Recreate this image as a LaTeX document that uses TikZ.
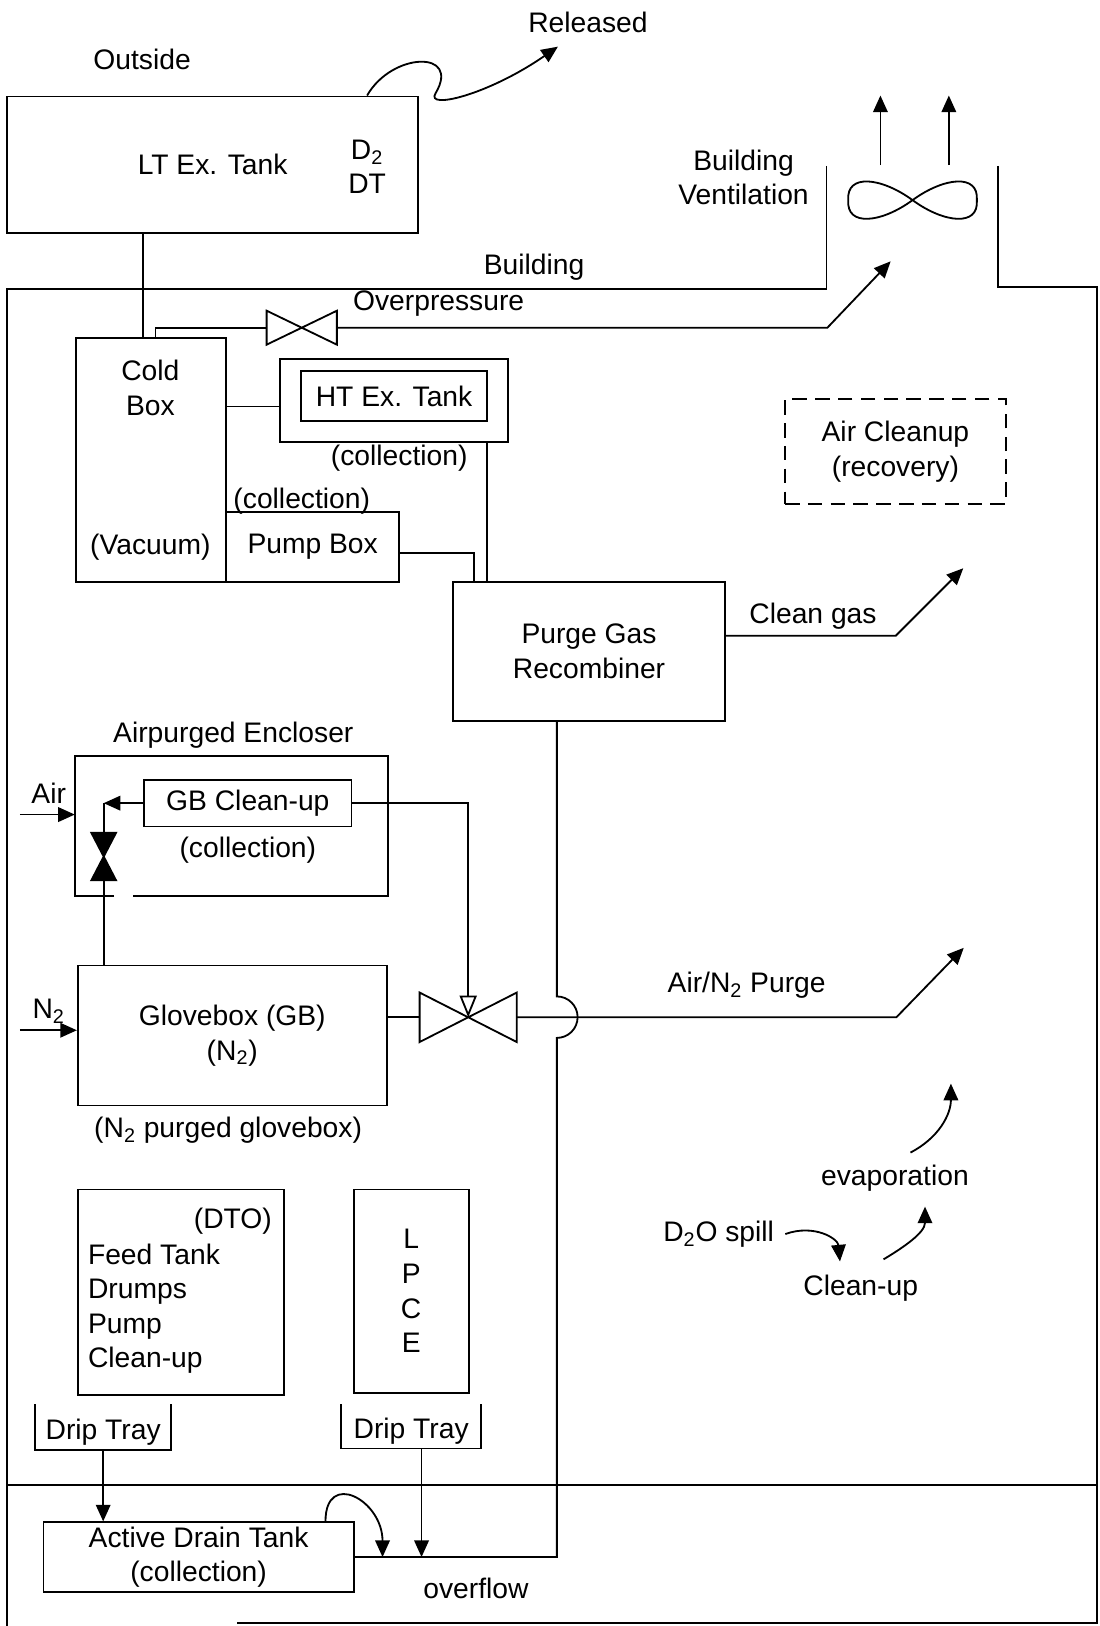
\documentclass[tikz,border=0pt]{standalone}
\usepackage{fontspec}
\setmainfont{Liberation Sans}
\usepackage{tikz}
\usetikzlibrary{arrows.meta}
\newcommand\px{0.2mm}
\tikzstyle{box} = [rectangle, draw=black, inner sep=0pt, align=center]
\tikzstyle{txt} = [inner sep=0pt, align=center]
\tikzstyle{valve} = [rectangle, inner sep=0pt]
\tikzstyle{arrow} = [-{Triangle[length=3.2mm, width=2.8mm]}]
\tikzstyle{openarrow} = [-{Triangle[open, length=4.2mm, width=3.3mm]}]
\newcommand\drawvalve[1]{\draw (#1.north west) -- (#1.south east) -- (#1.north east) -- (#1.south west) -- cycle;}
\newcommand\drawshut[1]{\filldraw (#1.north west) -- (#1.north east) -- (#1.south west) -- (#1.south east) -- cycle;}
\newcommand\drawtray[1]{\draw (#1.north west) -- (#1.south west) -- (#1.south east) -- (#1.north east);}

\begin{document}
\begin{tikzpicture}[x=\px, y=-\px, line width=1pt, font=\fontsize{15.5}{19}\selectfont]
\useasboundingbox (0,0) rectangle (1060,1568);

            \node (lt) [box, minimum width=396*\px, minimum height=132*\px] at (205,159) {LT Ex. Tank};
            \node (ltgas) [txt] at (354,161) {D\textsubscript{2}\\DT};
            \node (cold) [box, minimum width=145*\px, minimum height=235*\px] at (145.5,443.5) {};
            \node (coldtxt) [txt] at (145,374) {Cold\\Box};
            \node (vac) [txt] at (145,528) {(Vacuum)};
            \node (htout) [box, minimum width=220*\px, minimum height=80*\px] at (380,386) {};
            \node (ht) [box, minimum width=180*\px, minimum height=48*\px] at (380,382) {HT Ex. Tank};
            \node (htcol) [txt] at (385,442) {(collection)};
            \node (pump) [box, minimum width=167*\px, minimum height=67*\px] at (301.5,527.5) {Pump Box};
            \node (pumpcol) [txt] at (291,483) {(collection)};
            \node (purge) [box, minimum width=262*\px, minimum height=134*\px] at (568,628) {Purge Gas\\Recombiner};
            \node (aircl) [box, dash pattern=on 2.8mm off 1.6mm, minimum width=213*\px, minimum height=101*\px] at (863.5,435.5) {Air Cleanup\\(recovery)};
            \node (encl) [valve, minimum width=300*\px, minimum height=133*\px] at (223,796.5) {};
            \node (encltxt) [txt] at (225,709) {Airpurged Encloser};
            \node (gbclean) [box, minimum width=200*\px, minimum height=45*\px] at (239,774.5) {GB Clean-up};
            \node (gbcol) [txt] at (239,820) {(collection)};
            \node (shut) [valve, minimum width=22*\px, minimum height=44*\px] at (100,826) {};
            \node (glove) [box, minimum width=298*\px, minimum height=135*\px] at (224,998.5) {Glovebox (GB)\\(N\textsubscript{2})};
            \node (glovetxt) [txt] at (220,1090) {(N\textsubscript{2} purged glovebox)};
            \node (gvalve) [valve, minimum width=92*\px, minimum height=46*\px] at (451.5,981) {};
            \node (ovalve) [valve, minimum width=66*\px, minimum height=31*\px] at (291,316) {};
            \node (dto) [box, minimum width=199*\px, minimum height=198*\px] at (174.5,1246) {};
            \node (dtotxt) [txt, anchor=east] at (263,1178) {(DTO)};
            \node (dtolist) [txt, align=left, anchor=west] at (84,1262) {Feed Tank\\Drumps\\Pump\\Clean-up};
            \node (lpce) [box, minimum width=111*\px, minimum height=196*\px] at (396.5,1245) {L\\P\\C\\E};
            \node (tray1) [txt, minimum width=129*\px, minimum height=42*\px] at (99.5,1376) {\raisebox{-1mm}[\height][\depth]{Drip Tray}};
            \node (tray2) [txt, minimum width=133*\px, minimum height=41*\px] at (396.5,1375.5) {\raisebox{-1mm}[\height][\depth]{Drip Tray}};
            \node (adt) [box, minimum width=299*\px, minimum height=67*\px] at (191.5,1501.5) {Active Drain Tank\\(collection)};
            \node (fan) [valve, minimum width=124*\px, minimum height=36*\px] at (880,193) {};
            \node (spill) [txt] at (693,1190) {D\textsubscript{2}O spill};
            \node (cleanup) [txt] at (830,1242) {Clean-up};
            \node (evap) [txt] at (863,1136) {evaporation};
            \coordinate (evapout) at (917,1045);
            \coordinate (released) at (538,45);

            \node (reltxt) [txt] at (567,22) {Released};
            \node (outside) [txt] at (137,57) {Outside};
            \node (building) [txt] at (515,258) {Building};
            \node (venttxt) [txt] at (717,171) {Building\\Ventilation};
            \node (overtxt) [txt] at (423,293) {Overpressure};
            \node (cleantxt) [txt] at (784,594) {Clean gas};
            \node (purgetxt) [txt] at (720,950) {Air/N\textsubscript{2} Purge};
            \node (airtxt) [txt] at (47,765) {Air};
            \node (ntxt) [txt] at (47,975) {N\textsubscript{2}};
            \node (overflow) [txt] at (459,1532) {overflow};

            % walls
            \draw (797,160) -- (797,279) -- (7,279) -- (7,1568);
            \draw (962,160) -- (962,277) -- (1058,277) -- (1058,1565) -- (229,1565);
            \draw (7,1432) -- (1058,1432);

            % fan
            \draw[shift={(fan.center)}] (0,0) .. controls (-30,-22) and (-64,-26) .. (-62,0) .. controls (-64,26) and (-30,22) .. (0,0) .. controls (30,-22) and (64,-26) .. (62,0) .. controls (64,26) and (30,22) .. (0,0);
            \draw [arrow] ([xshift=-31*\px, yshift=15*\px]fan.north) -- ++(0,-67);
            \draw [arrow] ([xshift=35*\px, yshift=15*\px]fan.north) -- ++(0,-67);

            \draw [arrow] ([xshift=149*\px]lt.north) .. controls (378,50) and (445,48) .. (420,90) .. controls (410,106) and (470,92) .. (released);
            \draw ([xshift=-7.5*\px]cold.north |- lt.south) -- ([xshift=-7.5*\px]cold.north);

            \drawvalve{ovalve}
            \draw ([xshift=4.5*\px]cold.north) |- (ovalve.west);
            \draw [arrow] (ovalve.east) -- ++(473,0) -- ++(61,-64);

            \draw ([yshift=-6*\px]htout.west) -- ([yshift=-6*\px]htout.west -| cold.east);
            \draw ([xshift=90*\px]htout.south) -- ([xshift=90*\px]htout.south |- purge.north);
            \draw ([yshift=-6*\px]pump.east) -| ([xshift=-111*\px]purge.north);
            \draw [arrow] ([yshift=15*\px]purge.east) -- ++(164,0) -- ++(65,-65);
            \draw ([xshift=-31*\px]purge.south) -- ++(0,265) arc[start angle=90, end angle=-90, radius=4mm] |- (adt.east);

            \draw ([xshift=38*\px]encl.south west) -- (encl.south west) -- (encl.north west) -- (encl.north east) -- (encl.south east) -- ([xshift=56*\px]encl.south west);
            \draw [arrow] ([xshift=-53*\px, yshift=11*\px]encl.west) -- ([yshift=11*\px]encl.west);
            \draw [arrow] ([xshift=-55*\px, yshift=5*\px]glove.west) -- ([yshift=5*\px]glove.west);

            \drawshut{shut}
            \draw ([xshift=-124*\px]glove.north) -- (shut.south);
            \draw (shut.north) -- (shut.north |- gbclean.west);
            \draw [arrow] (gbclean.west) -- (shut.north |- gbclean.west);

            \drawvalve{gvalve}
            \draw [openarrow] (gbclean.east) -| (gvalve.center);
            \draw (glove.east |- gvalve.west) -- (gvalve.west);
            \draw [arrow] (gvalve.east) -- ++(366,0) -- ++(65,-67);

            \drawtray{tray1}
            \drawtray{tray2}
            \draw [arrow] (tray1.south) -- (tray1.south |- adt.north);
            \draw [arrow] ([xshift=10*\px]tray2.south) -- ([xshift=10*\px]tray2.south |- adt.east);
            \draw [arrow] ([xshift=-28*\px]adt.north east) .. controls +(0,-50) and +(0,-55) .. ([xshift=27*\px]adt.east);

            \draw [arrow] ([xshift=10*\px]spill.east) .. controls +(28,-10) and +(-2,-22) .. ([xshift=-20*\px, yshift=12*\px]cleanup.north);
            \draw [arrow] ([xshift=22*\px, yshift=14*\px]cleanup.north) .. controls +(20,-12) and +(0,25) .. ([xshift=29*\px, yshift=-14*\px]evap.south);
            \draw [arrow] ([xshift=15*\px, yshift=11*\px]evap.north) .. controls +(27,-14) and +(0,30) .. (evapout);

\end{tikzpicture}
\end{document}
